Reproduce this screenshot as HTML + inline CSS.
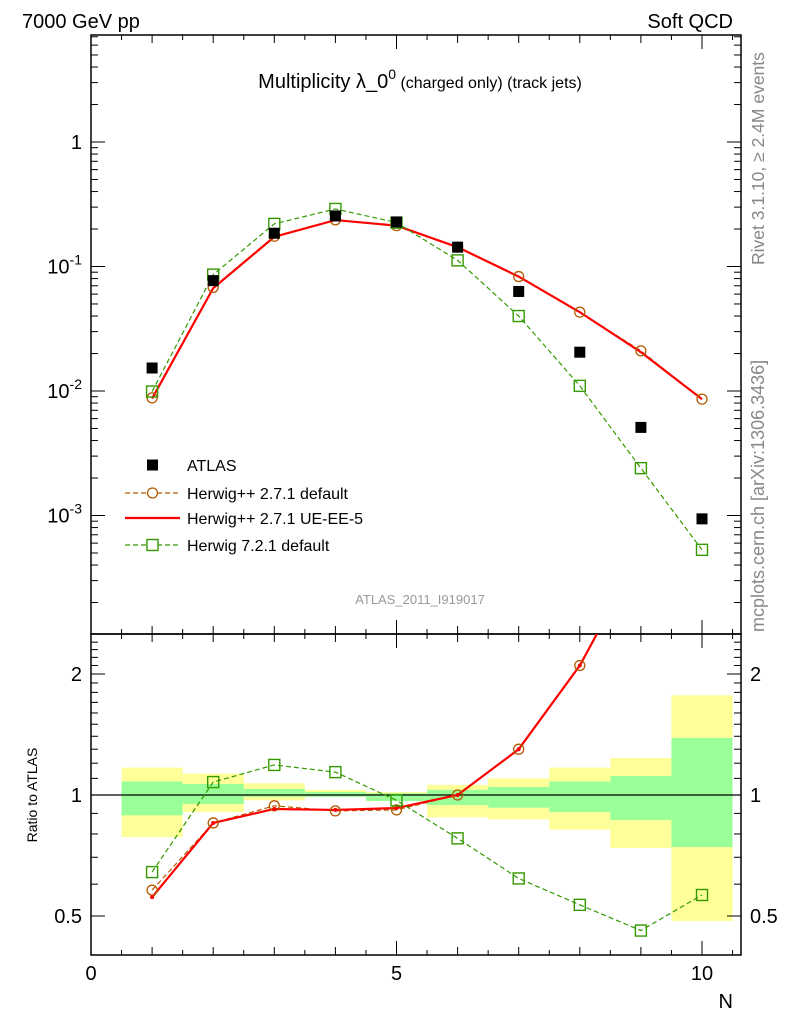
<!DOCTYPE html>
<html><head><meta charset="utf-8">
<style>
html,body{margin:0;padding:0;background:#fff;}
svg{display:block;font-family:"Liberation Sans",sans-serif;}
</style></head>
<body>
<svg id="chart" width="786" height="1024" viewBox="0 0 786 1024" xmlns="http://www.w3.org/2000/svg">
<text x="22" y="28" font-size="20">7000 GeV pp</text>
<text x="733" y="28" font-size="20" text-anchor="end">Soft QCD</text>
<text x="420" y="88" font-size="20" text-anchor="middle">Multiplicity λ_0<tspan dy="-9" font-size="14">0</tspan><tspan dy="9" font-size="16"> (charged only) (track jets)</tspan></text>
<text x="420" y="604" font-size="13" fill="#999" text-anchor="middle">ATLAS_2011_I919017</text>
<text transform="translate(764,265) rotate(-90)" font-size="17.5" fill="#888">Rivet 3.1.10, ≥ 2.4M events</text>
<text transform="translate(764,632) rotate(-90)" font-size="18" fill="#888">mcplots.cern.ch [arXiv:1306.3436]</text>
<text transform="translate(37,795) rotate(-90)" font-size="14" text-anchor="middle">Ratio to ATLAS</text>
<text x="733" y="1008" font-size="20" text-anchor="end">N</text>
<g id="bands"></g>
<g id="axes"></g>
<g id="series"></g>
<g id="legend"></g>
</svg>
<script>
const categories=[1,2,3,4,5,6,7,8,9,10];
const atlas=[0.0153,0.077,0.185,0.255,0.228,0.143,0.063,0.0205,0.0051,0.00094];
const herwigDefault=[0.0088,0.068,0.175,0.237,0.213,0.143,0.083,0.043,0.021,0.0086];
const herwigUE=[0.0087,0.067,0.173,0.236,0.213,0.143,0.083,0.043,0.0205,0.0086];
const herwig7=[0.0099,0.086,0.22,0.29,0.225,0.112,0.04,0.011,0.0024,0.00053];
const ratioDefault=[0.58,0.852,0.94,0.913,0.918,1.0,1.30,2.1,4.1,9.1];
const ratioUE=[0.557,0.852,0.923,0.918,0.928,1.0,1.30,2.1,4.0,9.1];
const ratio7=[0.643,1.077,1.188,1.14,0.97,0.78,0.62,0.533,0.46,0.564];
const yellowHi=[1.17,1.13,1.07,1.03,1.017,1.06,1.10,1.17,1.236,1.77];
const yellowLo=[0.786,0.907,0.97,0.99,0.99,0.88,0.87,0.82,0.738,0.486];
const greenHi=[1.08,1.065,1.035,1.017,1.01,1.03,1.047,1.08,1.115,1.386];
const greenLo=[0.89,0.95,0.99,0.99,0.966,0.944,0.93,0.907,0.867,0.742];
const xTicks=[0,5,10];
const yTicks=[1,0.1,0.01,0.001];
const yTickLabels=["1","10^-1","10^-2","10^-3"];
const rTicks=[0.5,1,2];

const NS="http://www.w3.org/2000/svg";
const L=91,R=741,T=35,B=634,RB=955;
const xs=v=>91+(v)*61.1;
const ys=v=>142-Math.log10(v)*124.5;
const yr=v=>795-Math.log2(v)*121;
function mk(tag,attrs,parent){const e=document.createElementNS(NS,tag);for(const k in attrs)e.setAttribute(k,attrs[k]);parent.appendChild(e);return e;}
const gB=document.getElementById('bands'),gA=document.getElementById('axes'),gS=document.getElementById('series'),gL=document.getElementById('legend');

categories.forEach((c,i)=>{
 let r=mk('rect',{x:xs(c-0.5),y:yr(yellowHi[i]),width:61.1,height:yr(yellowLo[i])-yr(yellowHi[i]),fill:'#ffff99'},gB);
 
 
 let g=mk('rect',{x:xs(c-0.5),y:yr(greenHi[i]),width:61.1,height:yr(greenLo[i])-yr(greenHi[i]),fill:'#99ff99'},gB);
 
 
});
let one=mk('line',{x1:L,x2:R,y1:yr(1),y2:yr(1),stroke:'#000','stroke-width':1.3},gA);



[[T,B],[B,RB]].forEach((p,k)=>{
 let f=mk('rect',{x:L,y:p[0],width:R-L,height:p[1]-p[0],fill:'none',stroke:'#000','stroke-width':1.5},gA);
 
 
});
for(let v=0;v<=10.6;v+=0.5){
 const major=Math.abs(v%5)<1e-6, mid=Math.abs(v%1)<1e-6;
 const len=major?14:(mid?8:5);
 [[T,1],[B,-1],[B,1],[RB,-1]].forEach(p=>mk('line',{x1:xs(v),x2:xs(v),y1:p[0],y2:p[0]+p[1]*len,stroke:'#000','stroke-width':1},gA));
}
xTicks.forEach(v=>{let t=mk('text',{x:xs(v),y:980,'font-size':20,'text-anchor':'middle'},gA);t.textContent=v;
 
 });
for(let d=-4;d<=0;d++){for(let m=1;m<10;m++){const v=m*Math.pow(10,d);const y=ys(v);if(y<T||y>B)continue;const len=m==1?14:7;
 mk('line',{x1:L,x2:L+len,y1:y,y2:y,stroke:'#000'},gA);mk('line',{x1:R,x2:R-len,y1:y,y2:y,stroke:'#000'},gA);}}
yTicks.forEach((v,i)=>{const t=mk('text',{x:82,y:ys(v)+7,'font-size':20,'text-anchor':'end'},gA);
 const lab=yTickLabels[i];
 if(lab.indexOf('^')>0){const p=lab.split('^');t.textContent=p[0];const s=mk('tspan',{dy:-9,'font-size':14},t);s.textContent=p[1];}
 else t.textContent=lab;
 
 });
for(let v=0.4;v<=2.5;v+=0.1){const y=yr(v);if(y<B||y>RB)continue;const maj=rTicks.some(r=>Math.abs(r-v)<1e-6);const len=maj?14:7;
 mk('line',{x1:L,x2:L+len,y1:y,y2:y,stroke:'#000'},gA);mk('line',{x1:R,x2:R-len,y1:y,y2:y,stroke:'#000'},gA);}
rTicks.forEach(v=>{[[82,'end'],[750,'start']].forEach(p=>{const t=mk('text',{x:p[0],y:yr(v)+7,'font-size':20,'text-anchor':p[1]},gA);t.textContent=v;
 
 });});

const defs=mk('defs',{},gS);
const c1=mk('clipPath',{id:'cm'},defs);mk('rect',{x:L,y:T,width:R-L,height:B-T},c1);
const c2=mk('clipPath',{id:'cr'},defs);mk('rect',{x:L,y:B,width:R-L,height:RB-B},c2);

function line(vals,fy,color,w,dash,clip,name){
 const pts=categories.map((c,i)=>xs(c)+','+fy(vals[i])).join(' ');
 const p=mk('polyline',{points:pts,fill:'none',stroke:color,'stroke-width':w,'stroke-dasharray':dash||'none','clip-path':'url(#'+clip+')'},gS);
 
 
}
function markers(vals,fy,type,color,clip,name){
 categories.forEach((c,i)=>{const x=xs(c),y=fy(vals[i]);let e;
  if(type=='circle')e=mk('circle',{cx:x,cy:y,r:5,fill:'none',stroke:color,'stroke-width':1.3,'clip-path':'url(#'+clip+')'},gS);
  else if(type=='osq')e=mk('rect',{x:x-5.5,y:y-5.5,width:11,height:11,fill:'none',stroke:color,'stroke-width':1.4,'clip-path':'url(#'+clip+')'},gS);
  else if(type=='sq')e=mk('rect',{x:x-5.5,y:y-5.5,width:11,height:11,fill:color,'clip-path':'url(#'+clip+')'},gS);
  else e=mk('circle',{cx:x,cy:y,r:2,fill:color,'clip-path':'url(#'+clip+')'},gS);
  
  
 });
}
line(herwigDefault,ys,'#b35900',1.2,'5,3','cm','herwigpp-default-line');
line(herwigUE,ys,'#ff0000',2.2,null,'cm','herwigpp-ue-line');
line(herwig7,ys,'#339900',1.2,'5,3','cm','herwig7-line');
markers(herwigDefault,ys,'circle','#b35900','cm','herwigpp-default');
markers(herwig7,ys,'osq','#339900','cm','herwig7');
markers(atlas,ys,'sq','#000','cm','atlas');
line(ratioDefault,yr,'#b35900',1.2,'5,3','cr','ratio-herwigpp-default-line');
line(ratioUE,yr,'#ff0000',2.2,null,'cr','ratio-herwigpp-ue-line');
line(ratio7,yr,'#339900',1.2,'5,3','cr','ratio-herwig7-line');
markers(ratioDefault,yr,'circle','#b35900','cr','ratio-herwigpp-default');
markers(ratioUE,yr,'dot','#ff0000','cr','ratio-herwigpp-ue');
markers(ratio7,yr,'osq','#339900','cr','ratio-herwig7');

const leg=[["ATLAS",'sq','#000',null,465],["Herwig++ 2.7.1 default",'circle','#b35900','5,3',493],["Herwig++ 2.7.1 UE-EE-5",'line','#ff0000',null,518],["Herwig 7.2.1 default",'osq','#339900','5,3',545]];
leg.forEach(l=>{const y=l[4];
 if(l[1]!='sq')mk('line',{x1:125,x2:180,y1:y,y2:y,stroke:l[2],'stroke-width':l[1]=='line'?2.2:1.2,'stroke-dasharray':l[3]||'none'},gL);
 if(l[1]=='sq')mk('rect',{x:147,y:y-5.5,width:11,height:11,fill:'#000'},gL);
 if(l[1]=='circle')mk('circle',{cx:152.5,cy:y,r:5,fill:'#fff',stroke:l[2],'stroke-width':1.3},gL);
 if(l[1]=='osq')mk('rect',{x:147,y:y-5.5,width:11,height:11,fill:'#fff',stroke:l[2],'stroke-width':1.4},gL);
 const t=mk('text',{x:187,y:y+6,'font-size':16},gL);t.textContent=l[0];
 
 
});
</script>
</body></html>
